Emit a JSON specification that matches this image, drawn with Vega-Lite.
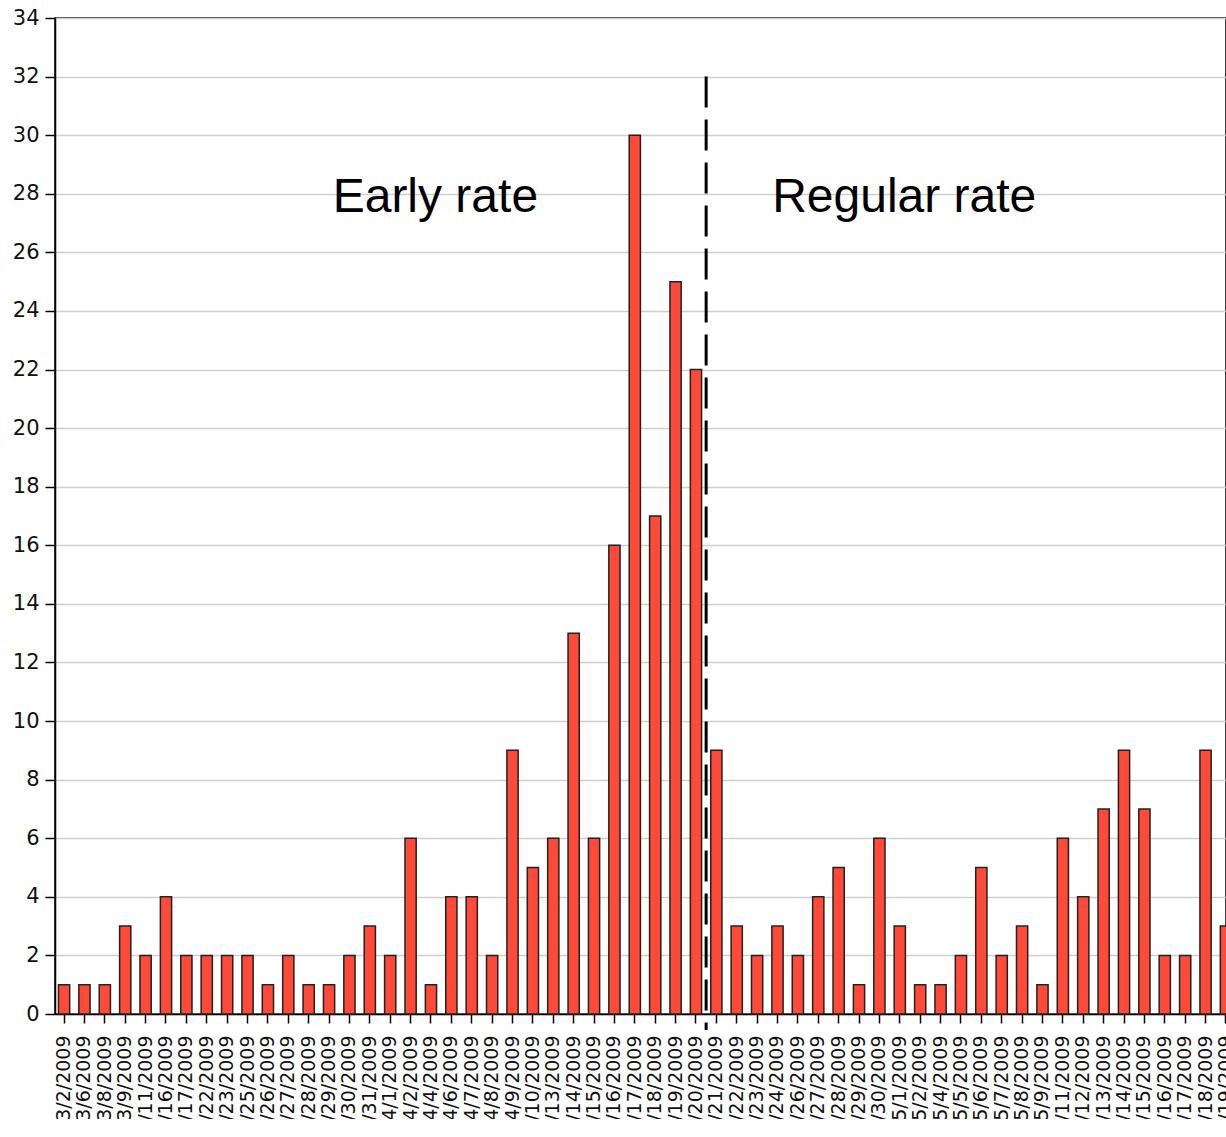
{
  "$schema": "https://vega.github.io/schema/vega-lite/v6.json",
  "autosize": {"type": "none"},
  "padding": {"left": 55, "top": 18, "right": 0, "bottom": 105},
  "width": 1171,
  "height": 996,
  "background": "white",
  "config": {
    "view": {"stroke": "#000", "strokeWidth": 1.5},
    "axis": {"labelFont": "DejaVu Sans", "labelColor": "#111", "domainColor": "#000", "domainWidth": 1.5, "tickColor": "#000", "tickWidth": 1.5}
  },
  "datasets": {
    "counts": [
      {"date": "3/2/2009", "count": 1},
      {"date": "3/6/2009", "count": 1},
      {"date": "3/8/2009", "count": 1},
      {"date": "3/9/2009", "count": 3},
      {"date": "3/11/2009", "count": 2},
      {"date": "3/16/2009", "count": 4},
      {"date": "3/17/2009", "count": 2},
      {"date": "3/22/2009", "count": 2},
      {"date": "3/23/2009", "count": 2},
      {"date": "3/25/2009", "count": 2},
      {"date": "3/26/2009", "count": 1},
      {"date": "3/27/2009", "count": 2},
      {"date": "3/28/2009", "count": 1},
      {"date": "3/29/2009", "count": 1},
      {"date": "3/30/2009", "count": 2},
      {"date": "3/31/2009", "count": 3},
      {"date": "4/1/2009", "count": 2},
      {"date": "4/2/2009", "count": 6},
      {"date": "4/4/2009", "count": 1},
      {"date": "4/6/2009", "count": 4},
      {"date": "4/7/2009", "count": 4},
      {"date": "4/8/2009", "count": 2},
      {"date": "4/9/2009", "count": 9},
      {"date": "4/10/2009", "count": 5},
      {"date": "4/13/2009", "count": 6},
      {"date": "4/14/2009", "count": 13},
      {"date": "4/15/2009", "count": 6},
      {"date": "4/16/2009", "count": 16},
      {"date": "4/17/2009", "count": 30},
      {"date": "4/18/2009", "count": 17},
      {"date": "4/19/2009", "count": 25},
      {"date": "4/20/2009", "count": 22},
      {"date": "4/21/2009", "count": 9},
      {"date": "4/22/2009", "count": 3},
      {"date": "4/23/2009", "count": 2},
      {"date": "4/24/2009", "count": 3},
      {"date": "4/26/2009", "count": 2},
      {"date": "4/27/2009", "count": 4},
      {"date": "4/28/2009", "count": 5},
      {"date": "4/29/2009", "count": 1},
      {"date": "4/30/2009", "count": 6},
      {"date": "5/1/2009", "count": 3},
      {"date": "5/2/2009", "count": 1},
      {"date": "5/4/2009", "count": 1},
      {"date": "5/5/2009", "count": 2},
      {"date": "5/6/2009", "count": 5},
      {"date": "5/7/2009", "count": 2},
      {"date": "5/8/2009", "count": 3},
      {"date": "5/9/2009", "count": 1},
      {"date": "5/11/2009", "count": 6},
      {"date": "5/12/2009", "count": 4},
      {"date": "5/13/2009", "count": 7},
      {"date": "5/14/2009", "count": 9},
      {"date": "5/15/2009", "count": 7},
      {"date": "5/16/2009", "count": 2},
      {"date": "5/17/2009", "count": 2},
      {"date": "5/18/2009", "count": 9},
      {"date": "5/19/2009", "count": 3}
    ],
    "notes": [
      {"date": "4/4/2009", "y": 27.85, "label": "Early rate"},
      {"date": "5/1/2009", "y": 27.85, "label": "Regular rate"}
    ],
    "divider": [
      {"date": "4/21/2009", "top": 32, "bottom": -0.55}
    ]
  },
  "encoding": {
    "x": {
      "field": "date",
      "type": "nominal",
      "sort": null,
      "title": null,
      "scale": {"range": [0, 1180], "paddingInner": 0.45, "paddingOuter": 0.17},
      "axis": {"labelAngle": -90, "labelFontSize": 19, "tickSize": 9, "labelPadding": 12, "grid": false, "labelOverlap": false}
    }
  },
  "layer": [
    {
      "data": {"name": "counts"},
      "mark": {"type": "bar", "color": "#ff4a3a", "stroke": "#222", "strokeWidth": 1.5},
      "encoding": {
        "y": {
          "field": "count",
          "type": "quantitative",
          "title": null,
          "scale": {"domain": [0, 34], "nice": false},
          "axis": {"values": [0,2,4,6,8,10,12,14,16,18,20,22,24,26,28,30,32,34], "labelFontSize": 21, "tickSize": 10, "labelPadding": 6, "gridColor": "#cfcfcf", "gridWidth": 1.5}
        }
      }
    },
    {
      "data": {"name": "divider"},
      "mark": {"type": "rule", "stroke": "#000", "strokeWidth": 3, "strokeDash": [31, 12], "xOffset": -4.6},
      "encoding": {
        "x": {"field": "date", "type": "nominal", "sort": null, "bandPosition": 0},
        "y": {"field": "top", "type": "quantitative"},
        "y2": {"field": "bottom"}
      }
    },
    {
      "data": {"name": "notes"},
      "mark": {"type": "text", "font": "Liberation Sans", "fontSize": 48, "color": "#000", "baseline": "middle", "align": "center"},
      "encoding": {
        "x": {"field": "date", "type": "nominal", "sort": null},
        "y": {"field": "y", "type": "quantitative"},
        "text": {"field": "label"},
        "xOffset": {"value": 10}
      }
    }
  ]
}
